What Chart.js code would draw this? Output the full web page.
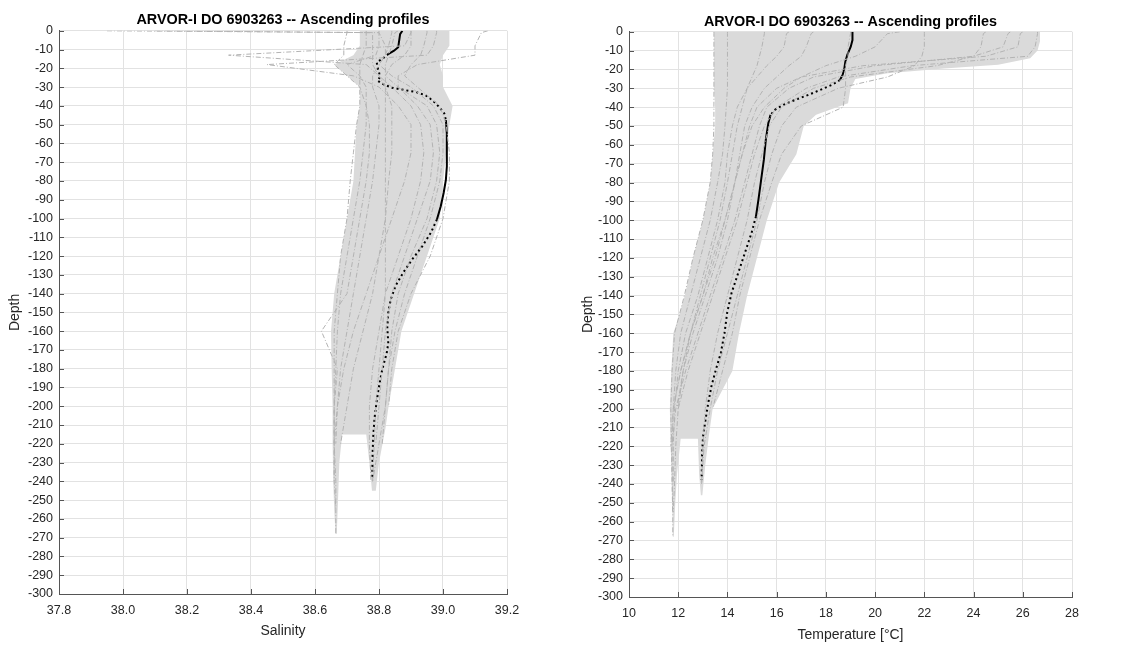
<!DOCTYPE html>
<html><head><meta charset="utf-8">
<script src="https://cdn.jsdelivr.net/npm/chart.js@4"></script>
<style>
html,body{margin:0;padding:0;background:#fff;}
#wrap{position:relative;width:1126px;height:646px;overflow:hidden;}
canvas{position:absolute;top:0;}
</style></head><body>
<div id="wrap">
<canvas id="c1" width="563" height="646" style="left:0"></canvas>
<canvas id="c2" width="563" height="646" style="left:563px"></canvas>
</div>
<script>
const chartTitle = 'ARVOR-I DO 6903263 -- Ascending profiles';

// shared depth levels (m) for the gray individual profiles
const depthGrid = [0,-1,-8,-13,-18,-24,-30,-40,-50,-65,-80,-100,-120,-140,-160,-180,-200,-220,-240,-255,-268];

// salinity profiles (gray)
const sal1  = [38.76,38.76,38.76,38.75,38.74,38.74,38.74,38.74,38.73,38.72,38.71,38.70,38.68,38.67,38.66,38.66,38.66,38.66,38.665,38.665,38.665];
const sal2  = [38.80,38.80,38.80,38.79,38.70,38.74,38.76,38.76,38.76,38.75,38.74,38.72,38.70,38.68,38.67,38.665,38.66,38.66,38.66,38.665];
const sal3  = [38.86,38.85,38.84,38.83,38.82,38.82,38.82,38.82,38.82,38.82,38.82,38.82,38.82,38.82,38.81,38.80,38.79,38.785,38.78];
const sal4  = [38.95,38.95,38.94,38.93,38.90,38.88,38.92,38.99,39.01,39.02,39.02,39.00,38.96,38.90,38.86,38.84,38.83];
const sal5  = [38.90,38.90,38.90,38.88,38.84,38.82,38.86,38.95,38.98,38.99,38.98,38.95,38.90,38.86,38.84,38.83,38.82,38.81];
const sal6  = [37.95,38.80,38.82,38.82,38.80,38.78,38.78,38.80,38.80,38.79,38.78,38.76,38.74,38.72,38.70,38.68,38.67,38.665];
const sal7  = [38.90,38.90,38.88,38.33,38.76,38.80,38.84,38.90,38.93,38.94,38.93,38.90,38.86,38.82,38.80,38.78,38.77,38.77,38.775];
const sal8  = [39.14,39.12,39.10,39.10,38.92,38.86,38.86,38.92,38.96,38.97,38.96,38.92,38.88,38.84,38.82,38.81,38.80,38.79];
const sal9  = [38.70,38.70,38.69,38.69,38.66,38.70,38.74,38.76,38.77,38.77,38.76,38.74,38.72,38.70,38.62,38.67,38.66,38.66,38.66];
const sal10 = [38.98,38.98,38.97,38.95,38.45,38.72,38.80,38.86,38.90,38.90,38.88,38.84,38.80,38.76,38.72,38.69,38.67,38.66];
const sal11 = [38.84,38.84,38.83,38.82,38.80,38.84,38.90,38.97,39.00,39.00,38.99,38.96,38.92,38.88,38.85,38.83,38.82,38.80,38.78];
const sal12 = [38.10,38.78,38.78,38.78,38.78,38.80,38.82,38.84,38.84,38.84,38.83,38.82,38.80,38.78,38.75,38.72,38.70,38.68];

// temperature profiles (gray)
const temp1  = [13.45,13.45,13.45,13.45,13.45,13.45,13.45,13.45,13.45,13.4,13.3,13.0,12.6,12.25,11.85,11.75,11.7,11.72,11.75,11.78,11.78];
const temp2  = [14.0,14.0,14.0,14.0,14.0,14.0,14.0,13.95,13.9,13.8,13.6,13.3,12.9,12.5,12.1,11.9,11.8,11.75,11.76,11.77];
const temp3  = [16.5,16.4,16.3,16.0,15.6,15.2,14.8,14.4,14.2,14.0,13.9,13.6,13.2,12.8,12.3,12.0,11.85,11.8,11.8];
const temp4  = [26.6,26.6,26.5,26.2,21.5,18.5,17.2,16.0,15.5,15.1,14.8,14.4,13.9,13.4,12.9,12.4,12.0];
const temp5  = [25.5,25.4,25.2,24.0,20.0,17.5,16.5,15.6,15.3,15.0,14.7,14.3,13.8,13.3,12.8,12.3,11.9,11.75];
const temp6  = [24.5,24.4,24.3,24.0,22.5,19.0,17.5,16.2,15.7,15.4,15.1,14.8,14.4,14.0,13.6,13.3,13.1,13.0,12.95];
const temp7  = [22.0,22.0,22.0,21.9,21.6,20.5,18.5,16.8,16.2,15.8,15.5,15.2,14.8,14.4,14.0,13.6,13.3,13.05,12.95];
const temp8  = [19.0,19.0,18.9,18.9,18.8,18.8,18.8,18.7,17.0,16.2,15.8,15.3,14.9,14.5,14.2,13.8,13.4];
const temp9  = [21.0,20.5,20.0,19.2,18.0,17.0,16.3,15.5,15.0,14.6,14.3,13.9,13.4,13.0,12.5,12.1,11.8,11.7];
const temp10 = [15.5,15.5,15.4,15.3,15.2,15.0,14.8,14.6,14.4,14.2,14.0,13.7,13.3,12.9,12.5,12.2,12.0,11.9,11.85,11.8];
const temp11 = [17.5,17.4,17.2,17.0,16.5,16.0,15.5,15.0,14.7,14.5,14.3,14.0,13.6,13.1,12.6,12.2,11.95];
const temp12 = [26.0,25.9,25.8,24.5,19.5,17.0,16.0,15.2,14.9,14.6,14.3,13.9,13.5,13.0,12.5,12.1,11.8];

// outline of the dense gray cloud formed by all profiles
const salCloudX = [38.74,38.74,38.72,38.66,38.70,38.74,38.74,38.73,38.725,38.72,38.70,38.68,38.66,38.65,38.652,38.655,38.655,38.657,38.66,38.664,
  38.668,38.672,38.676,38.685, 38.76,38.77,38.778,38.79,38.80,38.82,
  38.83,38.85,38.87,38.91,38.95,38.99,39.00,39.01,39.02,39.03,39.00,39.00,38.99,39.00,39.02,39.02];
const salCloudDepth = [0,-8,-13,-18,-24,-30,-40,-50,-65,-80,-100,-120,-140,-160,-180,-200,-220,-240,-255,-268,
  -268,-250,-230,-215, -215,-230,-245,-245,-230,-212,
  -200,-180,-160,-140,-120,-100,-80,-65,-50,-40,-30,-24,-18,-13,-8,0];
const tempCloudX = [13.45,13.45,13.5,13.5,13.4,13.3,13.0,12.6,12.27,12.0,11.8,11.72,11.66,11.68,11.72,11.76,11.78,
  11.82,11.88,11.95,12.1, 12.8,12.85,12.92,12.98,13.1,13.25,
  13.4,14.2,14.47,14.8,15.2,15.6,16.1,16.8,17.1,17.6,18.9,19.0,19.2,20.5,22.8,25.0,26.3,26.6,26.7,26.7];
const tempCloudDepth = [0,-30,-40,-50,-65,-80,-100,-120,-140,-152,-160,-180,-200,-215,-230,-250,-268,
  -268,-250,-235,-216, -216,-235,-246,-246,-230,-214,
  -200,-180,-160,-140,-120,-100,-80,-65,-50,-44,-38,-30,-25,-22,-19.5,-17.5,-14,-10,-5,0];

// highlighted (black) profile
const salMeanDepth = [0,-1.8,-8.8,-10.6,-12.3,-15,-16.8,-19.4,-22,-24.7,-26.5,-28.2,-30.3,-31.7,-32.6,-34.4,-37,-40.6,-44,-47.6,-54.7,-63.5,-72.3,-79.4,-86.4,-93.5,-100.5,-107.6,-114.6,-121.7,-128.7,-135.8,-142.9,-150,-158,-166.5,-171.8,-180.5,-189.4,-198.2,-206.5,-216,-225,-237.5];
const salMean = [38.873,38.866,38.86,38.847,38.83,38.81,38.793,38.795,38.80,38.803,38.795,38.81,38.839,38.884,38.915,38.946,38.967,38.988,39.004,39.009,39.012,39.012,39.012,39.009,39.002,38.993,38.981,38.962,38.936,38.904,38.876,38.852,38.837,38.829,38.826,38.829,38.824,38.81,38.80,38.792,38.786,38.782,38.78,38.779];
const tempMeanDepth = [0,-4.4,-7.9,-12.3,-15.9,-19.4,-22.9,-25.6,-28.2,-30.9,-33.5,-36.2,-38.8,-41.4,-44.1,-48.5,-57.3,-67.9,-78.5,-89.1,-97.9,-106.7,-117.3,-127.9,-138.5,-149,-160,-170.5,-179.3,-188.1,-197,-205.8,-214.8,-223.6,-232.5,-237.9];
const tempMean = [19.08,19.08,19.01,18.87,18.79,18.75,18.68,18.57,18.24,17.76,17.29,16.74,16.27,15.93,15.75,15.66,15.56,15.48,15.37,15.26,15.16,14.98,14.71,14.44,14.17,13.99,13.88,13.73,13.53,13.35,13.22,13.11,13.01,12.97,12.96,12.95];

const FONT = '"Liberation Sans", Arial, Helvetica, sans-serif';

function cloudPlugin(xs, depth) {
  return {
    id: 'cloud',
    beforeDatasetsDraw(chart) {
      const {ctx, chartArea: a, scales: {x, y}} = chart;
      ctx.save();
      ctx.beginPath(); ctx.rect(a.left, a.top, a.width, a.height); ctx.clip();
      ctx.beginPath();
      depth.forEach((d, i) => {
        const px = x.getPixelForValue(xs[i]), py = y.getPixelForValue(d);
        if (i) ctx.lineTo(px, py); else ctx.moveTo(px, py);
      });
      ctx.closePath();
      ctx.fillStyle = '#dadada';
      ctx.fill();
      ctx.restore();
    }
  };
}
const inTicks = {
  id: 'inTicks',
  afterDatasetsDraw(chart) {
    const {ctx, chartArea: a, scales: {x, y}} = chart;
    ctx.save(); ctx.strokeStyle = '#555'; ctx.lineWidth = 1; ctx.beginPath();
    x.ticks.forEach(t => { const px = Math.round(x.getPixelForValue(t.value)) + 0.5; ctx.moveTo(px, a.bottom); ctx.lineTo(px, a.bottom - 5); });
    y.ticks.forEach(t => { const py = Math.round(y.getPixelForValue(t.value)) + 0.5; ctx.moveTo(a.left, py); ctx.lineTo(a.left + 5, py); });
    ctx.stroke(); ctx.restore();
  }
};

function makeChart(id, o) {
  const datasets = o.profiles.map(p => ({
    data: p.map((v, i) => ({x: v, y: depthGrid[i]})),
    showLine: true, borderColor: '#b3b3b3', borderWidth: 1, borderDash: [5, 2, 1, 2],
    pointRadius: 0, fill: false
  }));
  const solid = d => o.solid.some(r => d <= r[0] && d > r[1]);
  datasets.push({
    data: o.meanDepth.map((d, i) => ({x: o.mean[i], y: d})),
    showLine: true, borderColor: '#000', borderWidth: 2, borderDash: [2, 3], pointRadius: 0, fill: false,
    segment: {borderDash: c => solid(c.p0.parsed.y) ? [] : [2, 3]}
  });
  return new Chart(document.getElementById(id), {
    type: 'scatter',
    data: {datasets},
    options: {
      responsive: false, animation: false, events: [],
      layout: {padding: {left: o.padL, right: o.padR, top: 0, bottom: 0}},
      plugins: {
        legend: {display: false}, tooltip: {enabled: false},
        title: {display: true, text: chartTitle, fullSize: false, color: '#000',
          font: {family: FONT, size: 14.4, weight: 'bold'}, padding: {top: o.tTop, bottom: o.tBot}}
      },
      scales: {
        x: {type: 'linear', min: o.xmin, max: o.xmax,
          ticks: {stepSize: o.step, color: '#262626', font: {family: FONT, size: 12.5}, padding: 9, maxRotation: 0, autoSkip: false},
          grid: {color: '#e2e2e2', drawTicks: false}, border: {color: '#555', width: 1},
          title: {display: true, text: o.xTitle, color: '#262626', font: {family: FONT, size: 14}, padding: {top: 2, bottom: o.xtBot}},
          afterFit: s => { s.height = o.xH; }},
        y: {type: 'linear', min: -300, max: 0,
          ticks: {stepSize: 10, color: '#262626', font: {family: FONT, size: 12.5}, padding: 6, autoSkip: false},
          grid: {color: '#e2e2e2', drawTicks: false}, border: {color: '#555', width: 1},
          title: {display: true, text: 'Depth', color: '#262626', font: {family: FONT, size: 14}, padding: {top: 6.5, bottom: 0}},
          afterFit: s => { s.width = o.yW; }}
      }
    },
    plugins: [cloudPlugin(o.cloudX, o.cloudD), inTicks]
  });
}

makeChart('c1', {
  profiles: [sal1, sal2, sal3, sal4, sal5, sal6, sal7, sal8, sal9, sal10, sal11, sal12],
  mean: salMean, meanDepth: salMeanDepth, solid: [[1, -12.3], [-46, -100.5]],
  cloudX: salCloudX, cloudD: salCloudDepth,
  xmin: 37.8, xmax: 39.2, step: 0.2, xTitle: 'Salinity',
  padL: 0, padR: 56, yW: 59, xH: 52, tTop: 11, tBot: 2.5, xtBot: 6
});
makeChart('c2', {
  profiles: [temp1, temp2, temp3, temp4, temp5, temp6, temp7, temp8, temp9, temp10, temp11, temp12],
  mean: tempMean, meanDepth: tempMeanDepth, solid: [[1, -25.6], [-42, -97.9]],
  cloudX: tempCloudX, cloudD: tempCloudDepth,
  xmin: 10, xmax: 28, step: 2, xTitle: 'Temperature [°C]',
  padL: 10, padR: 54, yW: 56, xH: 49, tTop: 13, tBot: 1.5, xtBot: 2
});
</script>
</body></html>
